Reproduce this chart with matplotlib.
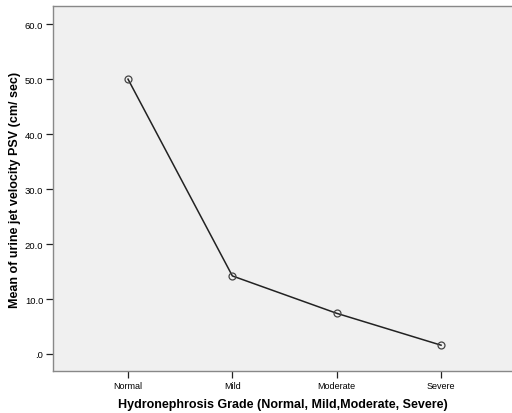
import matplotlib
matplotlib.use("Agg")
import matplotlib.pyplot as plt

grades = ["Normal", "Mild", "Moderate", "Severe"]
mean_psv = [50.0, 14.2, 7.4, 1.6]
y_ticks = [0, 10, 20, 30, 40, 50, 60]
y_tick_labels = [".0", "10.0", "20.0", "30.0", "40.0", "50.0", "60.0"]

plt.rcParams['font.family'] = ['Liberation Sans', 'DejaVu Sans']

fig = plt.figure(figsize=(5.12, 4.14), dpi=100)
ax = fig.add_axes([0.1035, 0.1014, 0.8965, 0.8816])
ax.set_facecolor('#f0f0f0')

x = list(range(len(grades)))
ax.plot(x, mean_psv, color='#222222', linewidth=1.1, marker='o', markersize=5,
        markerfacecolor='none', markeredgecolor='#444444', markeredgewidth=0.9)

ax.set_xlim(-0.719, 3.68)
ax.set_ylim(-3.1, 63.3)
ax.set_xticks(x)
ax.set_xticklabels(grades, fontsize=6.5)
ax.set_yticks(y_ticks)
ax.set_yticklabels(y_tick_labels, fontsize=6.8)
ax.tick_params(direction='out', length=5, width=0.9, color='#222222', pad=2)

for side in ['left', 'bottom', 'top']:
    ax.spines[side].set_color('#888888')
    ax.spines[side].set_linewidth(1.0)
ax.spines['right'].set_visible(False)

ax.set_xlabel("Hydronephrosis Grade (Normal, Mild,Moderate, Severe)", fontsize=9,
              fontweight='bold', labelpad=6)
ax.set_ylabel("Mean of urine jet velocity PSV (cm/ sec)", fontsize=9,
              fontweight='bold', labelpad=2.5)

fig.savefig("out.png", dpi=100)
